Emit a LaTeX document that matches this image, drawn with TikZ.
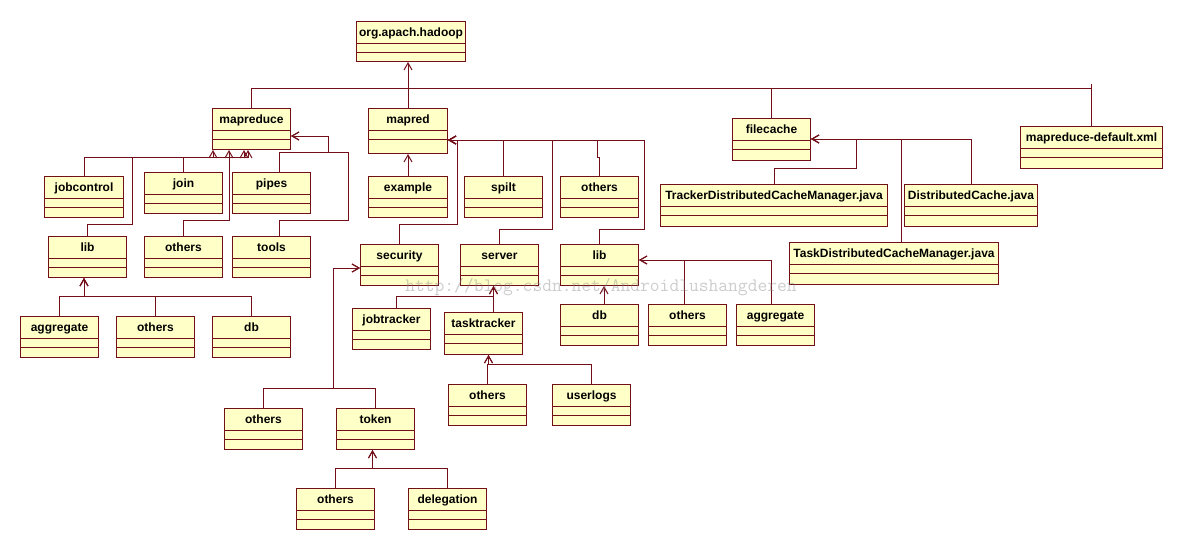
\documentclass[tikz,border=0pt]{standalone}
\usepackage{fontspec}
\setmainfont{Liberation Sans}
\usetikzlibrary{arrows.meta}
\definecolor{lc}{RGB}{115,15,25}
\definecolor{fc}{RGB}{255,255,200}
\begin{document}
\begin{tikzpicture}[x=1pt,y=-1pt,
  ln/.style={draw=lc, line width=1pt},
  dep/.style={ln, -{Straight Barb[length=7pt,width=8pt]}},
  cls/.style 2 args={draw=lc, fill=fc, line width=1pt, rectangle, inner sep=0pt,
    anchor=north west, minimum width=#1pt, text height=15pt, text depth=#2pt,
    font=\bfseries\fontsize{12}{14}\selectfont,
    path picture={\draw[lc, line width=1pt]
      ([yshift=-22pt]path picture bounding box.north west) -- ([yshift=-22pt]path picture bounding box.north east)
      ([yshift=-31pt]path picture bounding box.north west) -- ([yshift=-31pt]path picture bounding box.north east);}}
]
\useasboundingbox (0,0) rectangle (1182,550);
% nodes
\node[cls={109}{25}] (org) at (356,21) {org.apach.hadoop};
\node[cls={78}{26}] (mapreduce) at (212,108) {mapreduce};
\node[cls={79}{30}] (mapred) at (368,108) {mapred};
\node[cls={78}{27}] (filecache) at (732,118) {filecache};
\node[cls={142}{27}] (mdx) at (1020,126) {mapreduce-default.xml};
\node[cls={79}{26}] (jobcontrol) at (44,176) {jobcontrol};
\node[cls={78}{26}] (join) at (144,172) {join};
\node[cls={78}{26}] (pipes) at (232,172) {pipes};
\node[cls={78}{26}] (lib1) at (48,236) {lib};
\node[cls={78}{26}] (others1) at (144,236) {others};
\node[cls={78}{26}] (tools) at (232,236) {tools};
\node[cls={78}{26}] (agg1) at (20,316) {aggregate};
\node[cls={78}{26}] (others5) at (116,316) {others};
\node[cls={78}{26}] (db1) at (212,316) {db};
\node[cls={79}{26}] (example) at (368,176) {example};
\node[cls={78}{26}] (spilt) at (464,176) {spilt};
\node[cls={78}{26}] (others2) at (560,176) {others};
\node[cls={227}{27}] (tdcm) at (660,184) {TrackerDistributedCacheManager.java};
\node[cls={133}{27}] (dc) at (904,184) {DistributedCache.java};
\node[cls={209}{27}] (task) at (789,242) {TaskDistributedCacheManager.java};
\node[cls={78}{26}] (security) at (360,244) {security};
\node[cls={78}{26}] (server) at (460,244) {server};
\node[cls={78}{26}] (lib2) at (560,244) {lib};
\node[cls={78}{26}] (jobtracker) at (352,308) {jobtracker};
\node[cls={78}{27}] (tasktracker) at (444,312) {tasktracker};
\node[cls={78}{26}] (db2) at (560,304) {db};
\node[cls={78}{26}] (others4) at (648,304) {others};
\node[cls={78}{26}] (agg2) at (736,304) {aggregate};
\node[cls={78}{26}] (sothers) at (224,408) {others};
\node[cls={78}{26}] (token) at (336,408) {token};
\node[cls={78}{26}] (tkothers) at (448,384) {others};
\node[cls={78}{26}] (userlogs) at (552,384) {userlogs};
\node[cls={78}{26}] (tothers) at (296,488) {others};
\node[cls={78}{26}] (delegation) at (408,488) {delegation};
% top trunk
\coordinate (tk) at (0,88);
\draw[dep] (mapred.north) -- (mapred.north |- org.south);
\draw[ln] (mapreduce.north) -- (mapreduce.north |- tk) -- (mdx.north |- tk) -- (mdx.north);
\draw[ln] (mdx.north |- tk) -- ++(0,-4);
\draw[ln] (filecache.north) -- (filecache.north |- tk);
% mapreduce children
\coordinate (h1) at (0,157);
\coordinate (mra) at ([xshift=1pt]mapreduce.south west);
\coordinate (mrb) at ([xshift=17pt]mapreduce.south west);
\coordinate (mrc) at ([xshift=32pt]mapreduce.south west);
\coordinate (mrd) at ([xshift=36pt]mapreduce.south west);
\coordinate (mre) at ([yshift=-28pt]mapreduce.north east);
\draw[dep] (jobcontrol.north) |- (mra |- h1) -- (mra);
\draw[dep] (join.north) |- (mrc |- h1) -- (mrc);
\draw[dep] (lib1.north) |- (132,224) |- (mrd |- h1) -- (mrd);
\draw[dep] (others1.north) |- (mrb |- 0,220) -- (mrb);
\draw[dep] ([xshift=47pt]pipes.north west) |- (328,152) |- (mre);
\draw[dep] ([xshift=47pt]tools.north west) |- (348,220) |- (328,152) |- (mre);
% mapred children
\coordinate (mde) at ([yshift=-32pt]mapred.north east);
\draw[dep] (example.north) -- (example.north |- mapred.south);
\draw[dep] (spilt.north) |- (mde);
\draw[dep] (others2.north) |- (597,157) |- (mde);
\draw[dep] (server.north) |- (552,229) |- (mde);
\draw[dep] (lib2.north) |- (644,229) |- (mde);
\draw[dep] (security.north) |- (457,224) |- (mde);
% security
\coordinate (sj) at (333,388);
\coordinate (sw) at ([yshift=-24pt]security.north west);
\draw[dep] (sothers.north) |- (sj) |- (sw);
\draw[dep] (token.north) |- (sj) |- (sw);
\coordinate (tks) at ([xshift=-3pt]token.south);
\draw[dep] (tothers.north) |- (tks |- 0,468) -- (tks);
\draw[dep] (delegation.north) |- (tks |- 0,468) -- (tks);
% server
\coordinate (svs) at ([xshift=-6pt]server.south);
\draw[dep] (svs |- tasktracker.north) -- (svs);
\draw[dep] ([xshift=44pt]jobtracker.north west) |- (svs |- 0,296) -- (svs);
% tasktracker
\coordinate (tts) at ([xshift=5pt]tasktracker.south);
\draw[dep] (tkothers.north) |- (tts |- 0,364) -- (tts);
\draw[dep] (userlogs.north) |- (tts |- 0,364) -- (tts);
% lib2
\draw[dep] ([xshift=44pt]db2.north west) -- ([xshift=44pt]lib2.south west);
\coordinate (l2e) at ([yshift=-16pt]lib2.north east);
\draw[dep] ([xshift=36pt]others4.north west) |- (l2e);
\draw[dep] ([xshift=35pt]agg2.north west) |- (l2e);
% lib1
\coordinate (l1s) at ([xshift=36pt]lib1.south west);
\draw[dep] (agg1.north) |- (l1s |- 0,296) -- (l1s);
\draw[dep] (others5.north) |- (l1s |- 0,296) -- (l1s);
\draw[dep] (db1.north) |- (l1s |- 0,296) -- (l1s);
% filecache
\coordinate (fce) at ([yshift=-21pt]filecache.north east);
\draw[dep] ([xshift=114pt]tdcm.north west) |- (856,168) |- (fce);
\draw[dep] ([xshift=112pt]task.north west) |- (fce);
\draw[dep] (dc.north) |- (fce);
% watermark
\node[font=\ttfamily\fontsize{19}{19}\selectfont, text=gray, opacity=0.4, inner sep=0pt] (wm) at (601,287) {http://blog.csdn.net/Androidlushangderen};
\end{tikzpicture}
\end{document}
